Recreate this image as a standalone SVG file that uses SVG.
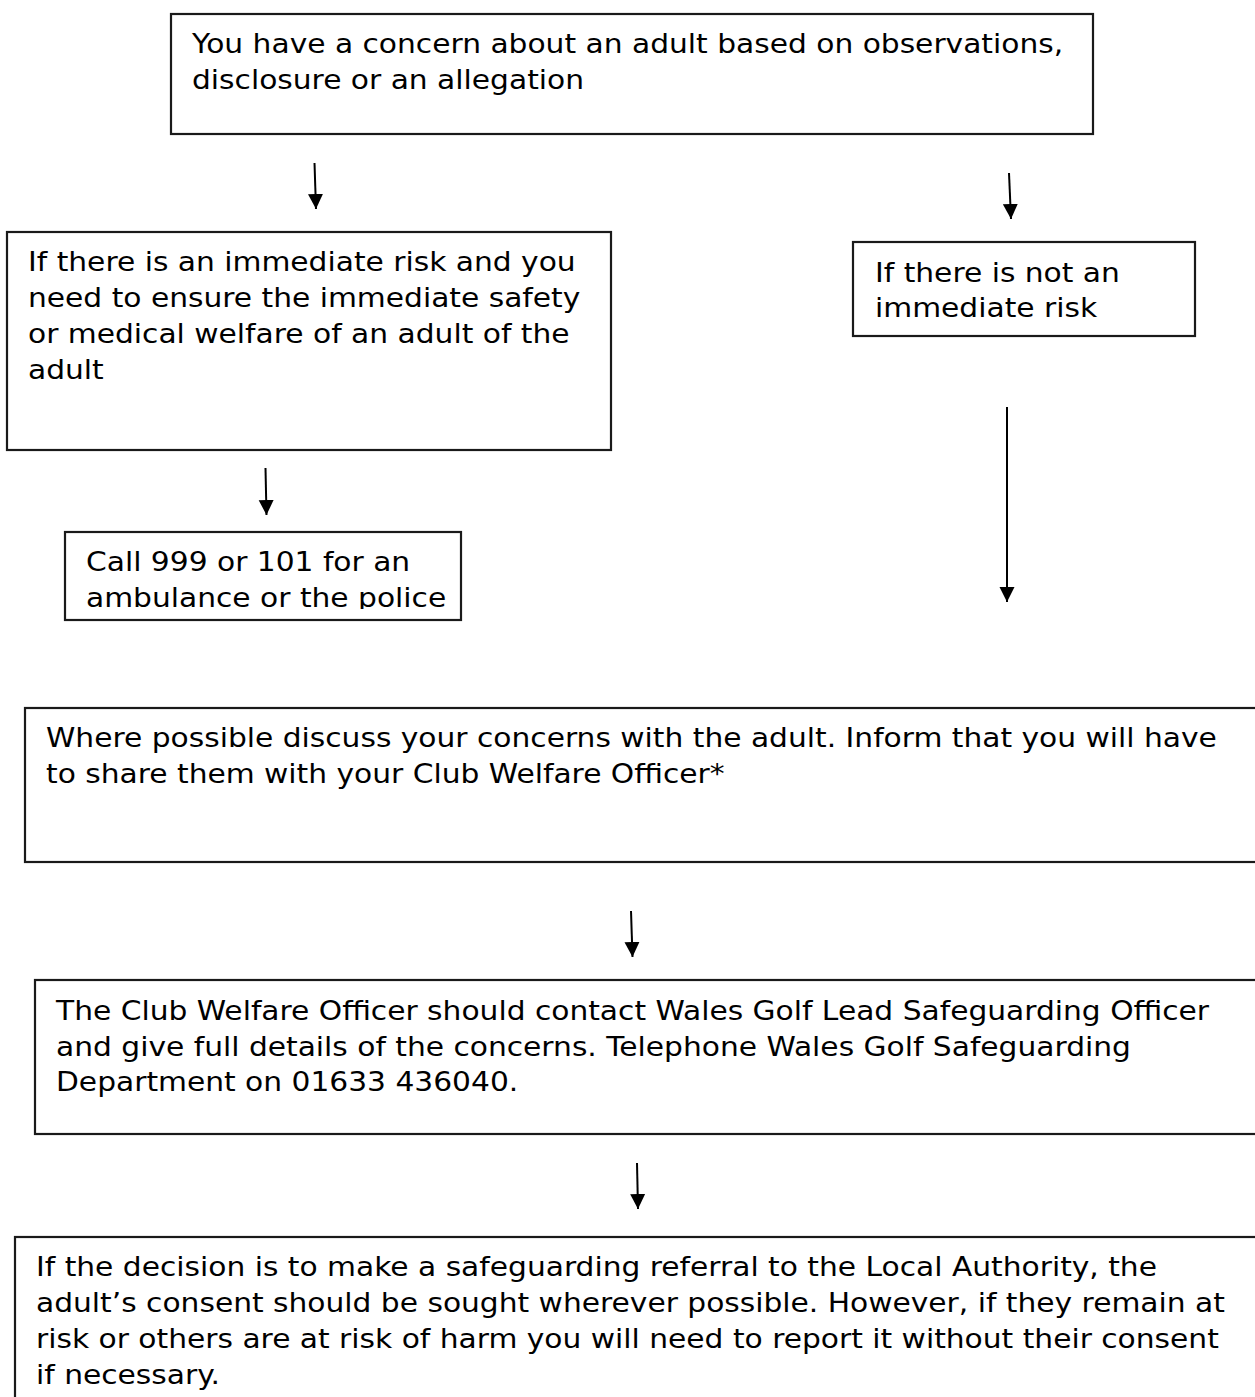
<svg xmlns="http://www.w3.org/2000/svg" width="1255" height="1397" viewBox="0 0 1255 1397">
<style>
.box{fill:#fff;stroke:#1a1a1a;stroke-width:2.2}
.t{font-family:"DejaVu Sans","Liberation Sans",sans-serif;font-size:27px;fill:#000}
.c{stroke:#000;stroke-width:2;fill:none;marker-end:url(#ah)}
</style>
<defs>
<marker id="ah" markerUnits="userSpaceOnUse" markerWidth="16" markerHeight="16" refX="15" refY="7.5" orient="auto">
<path d="M0,0 L15,7.5 L0,15 z" fill="#000"/>
</marker>
<clipPath id="clip3"><rect x="65" y="532" width="396" height="77"/></clipPath>
</defs>
<rect width="1255" height="1397" fill="#fff"/>

<g id="n1">
<rect class="box" x="171" y="14" width="922" height="120"/>
<text class="t" transform="translate(192 0) scale(1.1 1)"><tspan x="0" y="53">You have a concern about an adult based on observations,</tspan><tspan x="0" y="89">disclosure or an allegation</tspan></text>
</g>

<g id="n2">
<rect class="box" x="7" y="232" width="604" height="218"/>
<text class="t" transform="translate(28 0) scale(1.1 1)"><tspan x="0" y="271">If there is an immediate risk and you</tspan><tspan x="0" y="307">need to ensure the immediate safety</tspan><tspan x="0" y="343">or medical welfare of an adult of the</tspan><tspan x="0" y="379">adult</tspan></text>
</g>

<g id="n3">
<rect class="box" x="65" y="532" width="396" height="88"/>
<g clip-path="url(#clip3)">
<text class="t" transform="translate(86 0) scale(1.1 1)"><tspan x="0" y="571">Call 999 or 101 for an</tspan><tspan x="0" y="607">ambulance or the police</tspan></text>
</g>
</g>

<g id="n4">
<rect class="box" x="853" y="242" width="342" height="94"/>
<text class="t" transform="translate(875 0) scale(1.1 1)"><tspan x="0" y="282">If there is not an</tspan><tspan x="0" y="317">immediate risk</tspan></text>
</g>

<g id="n5">
<rect class="box" x="25" y="708" width="1240" height="154"/>
<text class="t" transform="translate(46 0) scale(1.1 1)"><tspan x="0" y="747">Where possible discuss your concerns with the adult. Inform that you will have</tspan><tspan x="0" y="783">to share them with your Club Welfare Officer*</tspan></text>
</g>

<g id="n6">
<rect class="box" x="35" y="980" width="1230" height="154"/>
<text class="t" transform="translate(56 0) scale(1.1 1)"><tspan x="0" y="1020">The Club Welfare Officer should contact Wales Golf Lead Safeguarding Officer</tspan><tspan x="0" y="1056">and give full details of the concerns. Telephone Wales Golf Safeguarding</tspan><tspan x="0" y="1091">Department on 01633 436040.</tspan></text>
</g>

<g id="n7">
<rect class="box" x="15" y="1237" width="1250" height="180"/>
<text class="t" transform="translate(36 0) scale(1.1 1)"><tspan x="0" y="1276">If the decision is to make a safeguarding referral to the Local Authority, the</tspan><tspan x="0" y="1312">adult’s consent should be sought wherever possible. However, if they remain at</tspan><tspan x="0" y="1348">risk or others are at risk of harm you will need to report it without their consent</tspan><tspan x="0" y="1384">if necessary.</tspan></text>
</g>

<g id="connectors">
<line class="c" x1="314.5" y1="163" x2="316" y2="209"/>
<line class="c" x1="1009" y1="173" x2="1011" y2="219"/>
<line class="c" x1="265.5" y1="468" x2="266.5" y2="515"/>
<line class="c" x1="1007" y1="407" x2="1007" y2="602"/>
<line class="c" x1="631" y1="911" x2="632.5" y2="957"/>
<line class="c" x1="637" y1="1163" x2="638" y2="1209"/>
</g>
</svg>
